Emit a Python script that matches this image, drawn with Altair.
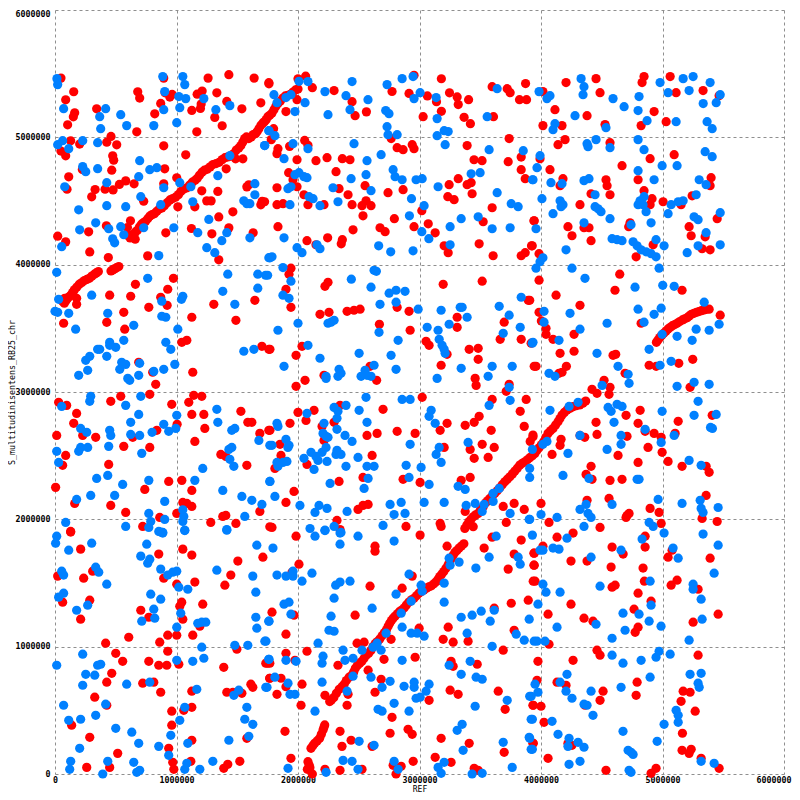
import altair as alt
import pandas as pd

# Values, in thousands of base pairs: (REF, S_multitudinisentens_RB25_chr)
red_upper_left = [(49,5465),(154,5358),(88,5295),(162,5193),(151,5161),(104,5098),(129,4973),(203,4947),(49,4892),(88,4855),(343,5224),(681,5358),(697,5308),(821,5185),(870,5266),(895,5465),(906,5350),(964,5337),(945,5316),(1260,5465),(1431,5492),(1639,5465),(1760,5429),(1170,5339),(1211,5363),(1332,5350),(1414,5282),(1538,5224),(1694,5271),(1203,5261),(1197,5227),(1126,5211),(1315,5156),(1376,5091),(1167,5043),(673,5043),(461,5007),(426,4962),(508,4941),(895,4933),(475,4855),(483,4821),(467,4742),(903,4753),(1076,4863),(225,4747),(113,4690),(99,4593),(330,4590),(302,4533),(412,4593),(478,4587),(530,4630),(582,4658),(651,4635),(895,4635),(1002,4682),(730,4498),(1208,4580),(1340,4575),(1249,4501),(1285,4501),(1011,4454),(1151,4454),(1464,4415),(1348,4375),(621,4344),(423,4305),(596,4292),(277,4258),(22,4224),(88,4179),(286,4100),(439,4056),(763,4069),(912,4250),(1123,4284),(1291,4242),(1431,4289),(1631,4250),(1348,4038),(1579,4611),(1595,4627),(1705,4498),(1694,4470),(1409,4753),(1546,4831),(1486,4831)]
red_diag_a = [(618,4210),(640,4226),(662,4257),(695,4296),(728,4330),(763,4361),(799,4393),(838,4419),(879,4445),(923,4487),(969,4519),(1016,4550),(1057,4592),(1107,4624),(1153,4663),(1189,4702),(1230,4742),(1277,4768),(1326,4794),(1376,4825),(1422,4846),(1472,4872),(1513,4917),(1546,4964),(1576,5003),(1615,5003),(1650,5029),(1678,5068),(1711,5113),(1738,5139),(1767,5173),(1802,5217),(1835,5265),(1876,5309),(1917,5330),(1959,5356),(2000,5380),(660,4200),(600,4230)]
red_diag_a2 = [(629,4230),(650,4240),(678,4270),(712,4318),(745,4340),(781,4382),(818,4400),(858,4438),(900,4462),(946,4508),(992,4530),(1036,4575),(1082,4602),(1130,4648),(1171,4678),(1210,4726),(1253,4750),(1300,4786),(1351,4804),(1399,4840),(1447,4854),(1492,4900),(1530,4935),(1561,4990),(1595,4990),(1632,5022),(1664,5045),(1695,5095),(1724,5122),(1752,5162),(1785,5190),(1818,5245),(1855,5285),(1896,5325),(1938,5338),(1980,5372)]
red_upper_mid = [(2000,5460),(2063,5480),(1761,5420),(2118,5390),(2297,5367),(2445,5280),(2470,5170),(2563,5200),(2774,5360),(2914,5345),(2955,5487),(3065,5325),(3140,5280),(3180,5460),(3247,5350),(3310,5317),(3319,5257),(3404,5296),(3180,5204),(3030,5162),(3367,5157),(3419,5107),(3609,5162),(3598,5398),(3722,5382),(3746,5351),(3873,5422),(3823,5296),(3881,5296),(3738,4990),(3392,4935),(3837,4845),(3730,4809),(3837,4746),(3870,4675),(3449,4824),(3515,4817),(3319,4675),(3244,4628),(3392,4628),(3425,4644),(3433,4557),(3233,4534),(3285,4510),(3598,4447),(3524,4337),(3944,4345),(3491,4164),(3606,4070),(3837,4070),(3870,4094),(3922,4148),(3203,4148),(3236,4094),(3129,4250),(3072,4321),(2955,4298),(2793,4361),(3019,4424),(2675,4290),(2717,4259),(2453,4274),(2365,4196),(2356,4164),(2244,4211),(2074,4188),(2148,4156),(2535,4384),(2527,4463),(2560,4502),(2601,4463),(2445,4471),(2412,4549),(2338,4597),(2552,4620),(2741,4565),(2865,4589),(2313,4730),(2365,4832),(2428,4824),(2239,4840),(2148,4817),(1992,4824),(1923,4722),(1959,4667),(1992,4612),(1827,4604),(2049,4549),(2082,4471),(2214,4471),(1725,4494),(1827,4471),(1877,4479),(1835,4298),(2055,4976),(2082,4937),(1931,4929),(1835,4911),(1827,4872),(1780,4982),(2816,4919),(2865,4903),(2940,4942),(2955,4911),(2767,4990),(1901,5202),(1992,5296),(1799,5068)]
red_upper_right = [(4206,5430),(4453,5461),(4486,5351),(4016,5359),(4115,5217),(4379,5170),(4016,5092),(4173,5092),(4527,5100),(4198,4982),(4140,4942),(4568,4958),(4848,5477),(4832,5430),(5063,5477),(5112,5351),(5334,5367),(5466,5327),(4931,5202),(5030,5123),(4824,5092),(4898,4832),(5096,4864),(4667,4777),(3992,4832),(4074,4746),(4181,4675),(4157,4620),(4535,4667),(4544,4620),(4568,4549),(4412,4557),(4799,4667),(4848,4581),(4914,4518),(4898,4471),(5005,4494),(5153,4471),(5244,4541),(5400,4683),(5392,4620),(4321,4471),(3942,4345),(4222,4298),(4354,4290),(4395,4290),(4255,4227),(4412,4188),(4733,4329),(4722,4298),(5219,4298),(5236,4227),(5351,4219),(5450,4361),(4923,4156),(4783,4062),(5326,4125),(5392,4117),(3928,4148),(3984,4086)]
red_diag_b = [(63,3710),(77,3697),(104,3736),(132,3762),(159,3802),(200,3846),(242,3875),(283,3893),(324,3925),(357,3946),(461,3951),(489,3967),(525,3985),(178,3736),(178,3689),(80,3736)]
red_diag_b2 = [(90,3716),(118,3750),(145,3782),(180,3824),(221,3860),(262,3884),(303,3910),(340,3935),(475,3959),(507,3976)]
red_middle_left = [(975,3893),(662,3846),(928,3807),(450,3760),(623,3752),(870,3744),(923,3681),(772,3665),(566,3626),(1126,3587),(1307,3689),(1645,3720),(1489,3563),(71,3540),(426,3547),(574,3493),(1044,3390),(1085,3406),(1703,3359),(1760,3335),(689,3233),(804,3155),(1134,3155),(829,3060),(780,2982),(1142,2974),(1208,2966),(541,2966),(459,2927),(30,2919),(96,2895),(961,2903),(1101,2919),(178,2832),(1126,2824),(1225,2824),(1530,2848),(154,2754),(1587,2762),(1620,2762),(1005,2746),(1233,2714),(838,2699),(1686,2675),(1760,2699),(14,2659),(228,2659),(335,2644),(640,2644),(1151,2612),(566,2573),(780,2565),(88,2502),(1365,2510),(1406,2494),(63,2424),(442,2431),(1579,2424),(5,2251),(936,2298),(1044,2306),(739,2235),(1126,2227),(162,2125),(459,2109),(1052,2133),(1085,2125),(1126,2101),(582,2054),(1002,2046),(1381,2023),(1406,2031),(1686,2062),(862,2015),(722,1944),(1282,1976),(1489,1968),(129,1905),(1768,1941)]
red_middle_mid = [(1942,3972),(1926,3925),(1901,3807),(1942,3665),(2247,3862),(2222,3830),(2181,3610),(2255,3626),(2404,3634),(2461,3642),(2511,3650),(2816,3665),(2914,3634),(2670,3532),(2923,3485),(3195,3846),(3516,3870),(3310,3587),(3310,3508),(3697,3548),(3895,3720),(3664,3414),(3837,3414),(3919,3383),(3054,3398),(3079,3367),(3409,3335),(3483,3343),(3227,3296),(3483,3257),(3178,3210),(1769,3335),(2033,3359),(1984,3288),(2593,3202),(2214,3131),(2058,3092),(2647,3092),(1984,3045),(3458,3107),(3466,3052),(3738,3060),(3714,3005),(3944,3202),(3022,2958),(3598,2942),(3878,2942),(3829,2848),(2346,2895),(2700,2864),(2000,2840),(2132,2856),(2066,2777),(1934,2754),(1769,2699),(2297,2762),(2198,2730),(2214,2620),(2568,2659),(2651,2675),(2816,2691),(2964,2675),(3170,2699),(3227,2754),(3376,2738),(3450,2762),(3491,2809),(3590,2699),(3862,2730),(3911,2612),(3516,2589),(3615,2565),(3417,2549),(3203,2565),(3450,2479),(3565,2486),(1852,2589),(1860,2502),(2074,2431),(1810,2400),(2610,2502),(2535,2329),(2338,2298),(2865,2314),(3005,2290),(3417,2329),(3343,2306),(1967,2219),(1901,2133),(2494,2078),(2535,2109),(2577,2117),(3376,2062),(3689,2101),(3779,2125),(3862,2078),(3714,1976),(3170,1968),(3178,1944),(2889,1944),(1786,1936),(2321,1991),(2346,1920)]
red_diag_c = [(2261,569),(2275,582),(2316,634),(2362,686),(2398,734),(2445,778),(2472,831),(2508,870),(2544,909),(2582,948),(2618,1001),(2654,1040),(2692,1085),(2728,1132),(2755,1184),(2783,1224),(2818,1258),(2857,1289),(2892,1328),(2934,1368),(2975,1399),(3016,1433),(3057,1459),(3098,1478),(3140,1512),(3167,1551),(3200,1590),(3236,1643),(3263,1695),(3291,1740),(3326,1774),(3365,1808),(3373,1928),(3406,1981),(3442,2020),(3483,2046),(3442,1942),(3524,2099),(3579,2164),(3620,2204),(3661,2248),(3702,2295),(3744,2334),(3785,2379),(3826,2426),(3867,2452),(3908,2484),(3950,2518),(3984,2562),(4022,2610),(4058,2675),(4099,2714),(4140,2767),(4173,2819),(4214,2859),(4264,2885),(4319,2898),(4368,2929),(3934,2649)]
red_diag_c2 = [(2295,600),(2339,665),(2380,705),(2421,760),(2458,800),(2490,855),(2526,885),(2563,935),(2600,970),(2636,1025),(2673,1060),(2710,1110),(2742,1160),(2769,1205),(2800,1240),(2838,1278),(2875,1305),(2913,1350),(2955,1380),(2995,1420),(3036,1445),(3078,1470),(3119,1495),(3153,1530),(3184,1570),(3218,1615),(3250,1670),(3277,1718),(3308,1755),(3345,1790),(3390,1955),(3424,2000),(3462,2035),(3500,2070),(3545,2130),(3560,2145),(3600,2185),(3640,2225),(3681,2272),(3723,2315),(3765,2357),(3805,2402),(3846,2440),(3888,2468),(3929,2500),(3966,2540),(4003,2585),(4040,2642),(4078,2695),(4120,2740),(4156,2792),(4193,2840),(4240,2872),(4290,2892),(4345,2912)]
red_diag_d = [(4950,3390),(4977,3427),(5010,3461),(5046,3495),(5082,3521),(5120,3540),(5164,3566),(5203,3584),(5238,3610),(5280,3626),(5321,3639),(5362,3650)]
red_diag_d2 = [(4963,3408),(4993,3444),(5028,3478),(5064,3508),(5101,3530),(5142,3553),(5183,3575),(5220,3597),(5259,3618),(5300,3632),(5342,3645)]
red_diag_e = [(2107,202),(2137,241),(2178,280),(2206,346),(2220,385),(2082,97),(2091,71),(2077,37),(2118,0),(2122,222),(2157,260),(2192,313),(2213,366),(2098,50)]
red_middle_right = [(4648,3925),(3984,3878),(4609,3799),(5161,3799),(4124,3760),(3907,3720),(4321,3681),(3984,3626),(4003,3558),(4041,3500),(4041,3453),(4099,3414),(4272,3453),(4824,3540),(4157,3304),(4272,3320),(4593,3288),(4615,3296),(3959,3202),(5249,3257),(5134,3225),(4890,3210),(4948,3202),(4692,3147),(4173,3155),(4209,3202),(4148,3147),(4519,3092),(4568,3037),(4420,3021),(4461,2990),(4560,2982),(5227,3037),(5475,3603),(5384,3650),(4816,2856),(4700,2817),(4453,2762),(4799,2754),(5129,2770),(5409,2817),(4461,2667),(4708,2652),(4321,2659),(4360,2644),(4857,2691),(4931,2675),(4989,2644),(5104,2675),(4165,2628),(4157,2581),(4091,2510),(4634,2502),(4881,2565),(4997,2526),(4412,2416),(4799,2447),(5046,2455),(5161,2416),(5359,2416),(5384,2369),(4371,2353),(4420,2314),(4568,2306),(4667,2314),(4560,2164),(4379,2149),(4000,2125),(5359,2188),(4898,2086),(4972,2054),(4725,2046),(4708,2031),(4700,2015),(4066,1976),(4486,1936),(4989,1968),(5326,2007),(5450,1983),(3934,2662)]
red_lower_left = [(129,1900),(211,1766),(854,1727),(1052,1766),(1126,1719),(1505,1672),(1711,1703),(22,1554),(236,1538),(310,1593),(895,1538),(1002,1491),(1151,1507),(1398,1483),(1447,1562),(286,1365),(63,1349),(211,1216),(706,1286),(772,1231),(1043,1349),(1027,1318),(1052,1216),(1216,1334),(1192,1161),(607,1074),(928,1090),(1002,1090),(1134,1090),(417,1027),(862,1035),(500,948),(928,964),(1497,980),(557,885),(772,885),(854,854),(920,854),(1019,862),(1389,838),(467,791),(426,721),(722,713),(813,721),(870,642),(1126,650),(1414,642),(1464,642),(1538,634),(1612,705),(1628,681),(327,603),(426,540),(961,493),(1060,500),(1126,524),(137,383),(961,383),(286,288),(1126,265),(1579,280),(936,202),(516,162),(261,52),(450,52),(969,92),(978,37),(1118,100),(1389,45),(1422,76),(1521,100),(1768,870),(1735,870),(1768,752)]
red_lower_mid = [(1984,1868),(3005,1876),(2634,1789),(2634,1750),(3227,1789),(3532,1774),(3598,1860),(3837,1837),(3779,1727),(3944,1734),(3944,1640),(3730,1609),(3936,1514),(2008,1648),(1951,1585),(2940,1554),(2857,1459),(2593,1475),(3755,1341),(3895,1365),(3615,1302),(1786,1271),(1967,1247),(2470,1247),(1901,1098),(3779,1129),(2997,1145),(3236,1153),(3195,1058),(3277,1035),(3400,1043),(2766,1058),(2544,1035),(2486,1027),(2074,964),(1901,948),(1975,893),(1750,870),(2329,854),(2708,901),(2964,917),(3689,972),(3260,885),(3277,846),(3475,862),(2577,815),(2684,744),(1767,752),(1860,752),(2033,705),(1901,686),(1827,626),(2222,618),(2412,626),(2634,642),(3252,658),(3318,626),(3648,650),(3079,579),(2025,540),(2404,540),(3705,508),(3936,540),(2774,445),(2758,320),(2906,351),(2940,312),(1893,335),(2346,335),(2437,265),(2362,217),(2610,217),(3178,280),(3409,241),(3697,170),(1942,123),(2948,100),(3129,131),(3260,92),(2783,68),(2849,60),(2807,0),(2222,37),(2346,29),(2527,37),(3450,45),(3483,29),(3936,241)]
red_lower_right = [(4132,1860),(4264,1892),(4016,1789),(3942,1734),(3942,1640),(3951,1514),(4247,1672),(4379,1672),(4585,1782),(4676,1727),(4857,1868),(4857,1782),(4577,1625),(4840,1617),(5046,1703),(5079,1758),(5392,1695),(4585,1467),(4610,1483),(4851,1514),(5071,1483),(5120,1522),(5293,1451),(4799,1420),(4247,1334),(4906,1357),(4058,1255),(4354,1224),(4428,1200),(4766,1294),(5458,1255),(5252,1192),(4799,1153),(4775,1113),(4066,1019),(4461,972),(4486,933),(4264,893),(3975,885),(5293,933),(3967,736),(4132,721),(4206,697),(4791,721),(4511,650),(4783,618),(4486,579),(3934,540),(4000,532),(4362,540),(5170,650),(5227,642),(5153,571),(5269,493),(4025,406),(5164,320),(3934,241),(4222,241),(4255,225),(5161,186),(5236,194),(5219,162),(4058,123),(5318,123),(4535,29),(4906,5),(4947,45),(5466,45)]

blue_upper_left = [(16,5461),(22,5414),(71,5225),(417,5225),(368,5162),(376,5068),(541,5178),(590,5092),(813,5092),(887,5477),(1052,5477),(1068,5414),(903,5359),(1019,5320),(1076,5304),(895,5217),(1027,5233),(1002,5115),(1225,5304),(1324,5217),(1439,5249),(22,4942),(63,4974),(113,4911),(228,4974),(351,4958),(1727,4935),(1760,5052),(1439,4856),(228,4770),(253,4730),(351,4754),(697,4817),(780,4746),(838,4762),(689,4691),(426,4644),(80,4612),(1027,4644),(895,4604),(1118,4612),(1340,4699),(706,4534),(1645,4636),(1645,4549),(1554,4502),(1579,4479),(1604,4479),(426,4463),(582,4455),(195,4431),(870,4471),(1134,4494),(1266,4355),(335,4329),(442,4282),(203,4274),(541,4298),(566,4235),(730,4290),(978,4290),(1175,4251),(1414,4251),(1373,4188),(1604,4211),(475,4203),(491,4172),(55,4141),(1249,4133),(1315,4094),(854,4071),(1760,4055)]
blue_upper_mid = [(2445,5438),(2222,5359),(2082,5438),(2008,5440),(1802,5335),(1827,5272),(1901,5312),(1942,5335),(2058,5272),(1975,5202),(2247,5178),(2395,5327),(2428,5217),(2576,5296),(2733,5414),(2857,5461),(2947,5477),(3005,5351),(2955,5304),(3137,5312),(2722,5210),(2749,5186),(3145,5147),(3557,5162),(3639,5382),(2733,5084),(2741,5021),(2816,5021),(3145,5013),(3203,5052),(3236,5045),(3211,4942),(3573,4903),(3854,4895),(2461,4950),(1761,5052),(1810,5013),(1725,4935),(1959,4950),(2082,4911),(1885,4832),(2684,4864),(2568,4817),(2783,4746),(2560,4707),(2799,4691),(2857,4667),(2972,4667),(3022,4675),(2437,4675),(2008,4722),(1975,4707),(2049,4691),(2074,4683),(2288,4604),(1942,4612),(1917,4597),(2601,4581),(3153,4612),(3425,4714),(3499,4722),(3639,4565),(3930,4667),(2091,4534),(2124,4518),(1934,4471),(2181,4463),(2329,4494),(2934,4518),(3038,4463),(3755,4479),(3812,4455),(2917,4384),(3343,4361),(3483,4376),(3252,4298),(3598,4282),(3746,4290),(3019,4259),(3077,4204),(1885,4211),(1992,4133),(2033,4094),(2156,4156),(2181,4125),(2664,4148),(2763,4101),(2947,4109),(3252,4156),(1769,4054),(1786,4062)]
blue_upper_right = [(4330,5461),(4354,5398),(4346,5335),(3984,5359),(4049,5304),(4074,5327),(4593,5304),(4807,5320),(4684,5241),(4799,5210),(4280,5170),(4115,5107),(4099,5060),(4535,5076),(4873,5131),(4980,5430),(5170,5461),(5252,5477),(5392,5430),(5046,5351),(5219,5367),(5475,5335),(5335,5265),(5442,5272),(5112,5123),(5367,5123),(5409,5068),(4799,4982),(4453,4982),(4379,4950),(4387,4927),(4568,4919),(4848,4903),(3992,4856),(3967,4762),(5351,4887),(5409,4848),(4997,4777),(5120,4777),(4799,4738),(3934,4667),(4082,4644),(4173,4636),(4354,4660),(4395,4675),(4931,4667),(5302,4667),(5359,4628),(4008,4518),(4445,4549),(4157,4502),(4181,4471),(4165,4455),(4445,4455),(4470,4439),(4494,4416),(4848,4534),(4815,4502),(4799,4471),(4840,4471),(4865,4416),(5071,4471),(5129,4494),(5170,4502),(5277,4549),(5046,4400),(5260,4376),(5293,4353),(5475,4408),(4099,4400),(4568,4361),(4354,4329),(4906,4329),(4741,4314),(3959,4282),(5359,4251),(4585,4204),(4626,4196),(4667,4188),(4947,4196),(5013,4148),(5293,4148),(5475,4156),(4206,4117),(5203,4094),(4758,4180),(4791,4148),(4824,4117),(4865,4101),(4906,4086),(4947,4062),(4016,4054),(3992,4023)]
blue_middle_left = [(14,3940),(763,3893),(1422,3925),(1669,3925),(1733,3917),(1669,3815),(1381,3791),(302,3760),(30,3728),(1052,3752),(1041,3728),(879,3713),(1480,3689),(0,3634),(22,3626),(113,3618),(434,3618),(879,3595),(912,3587),(170,3493),(648,3524),(1011,3493),(566,3406),(450,3390),(450,3367),(500,3351),(351,3335),(368,3335),(912,3390),(953,3335),(286,3280),(253,3249),(426,3280),(1554,3320),(1637,3335),(549,3233),(582,3217),(697,3225),(986,3217),(533,3178),(269,3170),(895,3178),(813,3162),(195,3131),(689,3131),(599,3107),(615,3092),(294,2966),(286,2927),(706,2966),(55,2887),(582,2895),(1332,2864),(689,2824),(1002,2817),(623,2762),(1340,2762),(211,2714),(261,2683),(450,2699),(459,2659),(623,2667),(697,2659),(799,2683),(895,2746),(936,2691),(994,2714),(1455,2699),(1480,2714),(1678,2620),(1768,2581),(14,2534),(195,2534),(211,2565),(269,2565),(442,2573),(714,2518),(1455,2565),(1431,2549),(1439,2471),(1472,2416),(30,2447),(1216,2400),(343,2321),(434,2345),(557,2274),(772,2306),(1151,2306),(1768,2298),(1381,2227),(294,2188),(491,2188),(178,2156),(903,2141),(1538,2180),(1620,2149),(1703,2117),(1052,2075),(1060,2023),(1052,1983),(772,2046),(788,1983),(903,1999),(88,1976),(1562,2023),(582,1944),(772,1936),(854,1905),(887,1897),(1068,1912),(1414,1920)]
blue_middle_mid = [(1876,3977),(1750,3917),(1942,3870),(1876,3760),(1926,3736),(2000,3540),(1835,3485),(2082,3367),(2181,3265),(1885,3202),(2439,3886),(2626,3956),(2645,3948),(2601,3823),(2750,3776),(2807,3799),(2881,3791),(2675,3689),(2807,3705),(2989,3650),(2297,3563),(2272,3548),(2247,3540),(2667,3469),(2824,3406),(2503,3304),(2766,3288),(2626,3210),(2807,3178),(2552,3170),(2568,3131),(2519,3123),(2601,3123),(2338,3178),(2354,3147),(2329,3123),(2231,3123),(2231,3107),(3063,3508),(3153,3485),(3178,3642),(3244,3532),(3335,3665),(3351,3665),(3392,3587),(3162,3414),(3186,3367),(3203,3335),(3211,3304),(3656,3673),(3738,3603),(3837,3744),(3829,3508),(3689,3461),(3928,3383),(3598,3202),(3763,3202),(3343,3186),(3565,3123),(3145,3107),(3738,3037),(3746,2935),(3573,2895),(2560,2958),(2857,2942),(2923,2942),(2395,2895),(2297,2879),(2329,2848),(2321,2793),(2503,2856),(2074,2832),(1827,2754),(1835,2730),(2214,2754),(2568,2762),(2321,2707),(2206,2675),(2231,2652),(2247,2644),(2387,2659),(2445,2612),(3096,2856),(3079,2809),(3129,2754),(2923,2589),(3400,2604),(3162,2565),(3137,2510),(3178,2447),(1786,2581),(1901,2628),(1926,2581),(1917,2565),(2107,2526),(2231,2565),(2198,2526),(2148,2494),(2165,2463),(2049,2479),(2239,2455),(2321,2542),(2313,2510),(2354,2510),(2494,2486),(2132,2392),(2395,2416),(2568,2416),(2626,2416),(2890,2424),(3013,2408),(1827,2447),(1835,2416),(1876,2447),(1909,2455),(1769,2298),(2264,2282),(2577,2321),(2544,2243),(2914,2329),(3079,2274),(3318,2259),(3376,2235),(1810,2180),(2016,2109),(2173,2109),(2239,2086),(2140,2054),(2404,2062),(2758,2117),(2849,2133),(2791,2038),(2881,2046),(3038,2133),(3203,2133),(3384,2109),(3458,2125),(3532,2117),(3516,2062),(3606,2141),(3656,2243),(3606,2204),(3746,2046),(3903,1999),(2700,1952),(2099,1928),(2222,1912),(2297,1944),(2354,1897)]
blue_middle_right = [(3959,3972),(4362,3893),(4255,3972),(4972,3972),(4774,3823),(5002,3838),(5096,3830),(5343,3705),(4025,3634),(4239,3618),(4799,3650),(4989,3658),(4931,3610),(4025,3548),(4544,3540),(4848,3548),(4321,3493),(5466,3532),(5277,3493),(5384,3485),(4997,3453),(5120,3437),(5244,3406),(3934,3390),(4148,3406),(4890,3335),(4461,3304),(5071,3241),(4980,3210),(4634,3202),(4717,3139),(4066,3147),(4115,3123),(4725,3068),(5120,3045),(5260,3076),(5384,3060),(4503,3052),(5293,2927),(4305,2919),(4231,2887),(4074,2856),(4552,2879),(4577,2848),(4626,2903),(4667,2887),(4997,2848),(5260,2817),(5442,2824),(4601,2762),(4857,2707),(5395,2722),(5411,2714),(4659,2659),(5096,2659),(4989,2604),(4659,2589),(4321,2659),(4049,2612),(4016,2589),(3929,2549),(4544,2549),(4222,2518),(5219,2463),(5318,2424),(3907,2400),(3907,2329),(4181,2345),(4395,2321),(4791,2314),(4807,2314),(4964,2156),(5161,2125),(5310,2149),(5458,2093),(5318,2086),(5334,2054),(4585,2117),(4371,2117),(4321,2078),(4387,2046),(4412,2015),(4000,2038),(4132,2015),(3907,2000),(4890,1976),(4923,1944),(4354,1944)]
blue_lower_left = [(14,1868),(5,1813),(113,1758),(302,1813),(755,1805),(870,1900),(887,1892),(1068,1915),(1414,1915),(1661,1797),(706,1711),(780,1687),(763,1656),(55,1593),(71,1562),(335,1624),(360,1585),(870,1609),(928,1562),(969,1585),(1002,1593),(1332,1601),(1628,1554),(426,1491),(1019,1467),(1093,1451),(1653,1428),(30,1389),(71,1420),(788,1412),(870,1373),(269,1326),(178,1286),(813,1294),(821,1224),(714,1200),(1035,1263),(1653,1231),(1760,1200),(1175,1184),(1208,1192),(1241,1192),(1002,1153),(1661,1145),(1727,1043),(1208,996),(1480,1011),(1587,1011),(228,941),(14,854),(351,854),(376,862),(1002,893),(1134,885),(1225,909),(1760,901),(253,783),(327,776),(228,697),(590,705),(780,721),(1167,665),(1513,658),(1472,618),(1735,681),(71,540),(417,548),(1068,524),(1579,524),(113,422),(211,430),(335,461),(1027,422),(1562,430),(1628,390),(500,359),(632,328),(953,304),(1595,296),(689,241),(1431,265),(1093,241),(203,202),(854,217),(936,147),(129,100),(434,100),(648,92),(1299,100),(1085,84),(121,37),(393,0),(673,13),(697,29),(1068,37),(1192,37)]
blue_lower_mid = [(1794,1774),(2140,1868),(2222,1915),(2346,1892),(2346,1805),(2494,1868),(2791,1829),(3631,1868),(3573,1703),(3812,1703),(3829,1648),(3326,1664),(3244,1695),(3252,1640),(3464,1617),(1827,1562),(1901,1554),(1959,1593),(1959,1554),(2033,1514),(2115,1577),(2914,1569),(2310,1483),(2346,1507),(2428,1514),(3013,1483),(3022,1436),(3203,1499),(2807,1412),(2297,1381),(2931,1357),(3203,1349),(1885,1334),(1926,1349),(2610,1302),(1942,1255),(2272,1239),(2849,1263),(1761,1200),(3343,1231),(3433,1247),(3508,1279),(3615,1286),(3582,1200),(3903,1216),(2857,1153),(2255,1129),(2297,1121),(2725,1106),(2931,1106),(2980,1106),(3038,1082),(3392,1106),(3796,1098),(3862,1051),(1736,1043),(2165,1027),(2651,1027),(2618,996),(2684,972),(2527,972),(2371,972),(3598,1003),(3944,1043),(2206,925),(2198,870),(2453,909),(2387,893),(1761,901),(1901,893),(1984,885),(2857,893),(3244,854),(3417,885),(3343,783),(3466,760),(3516,744),(1810,760),(2453,768),(2601,760),(2758,728),(1918,713),(2198,721),(2956,721),(3079,705),(2873,689),(2956,681),(2692,681),(1745,681),(2404,650),(3054,650),(1934,626),(1975,626),(2972,595),(3005,603),(3919,610),(2791,555),(3722,579),(2659,508),(2692,493),(2914,493),(2140,493),(3458,532),(3919,430),(3351,390),(3310,343),(3903,288),(3689,249),(2503,257),(2626,225),(3359,186),(3919,194),(2371,107),(2445,100),(2791,100),(3203,92),(1918,45),(2494,37),(2824,37),(2231,13),(3153,52),(3178,5),(3433,0),(3516,5),(3763,52)]
blue_lower_right = [(3929,1876),(4214,1852),(4832,1845),(5013,1892),(5334,1884),(5458,1797),(3992,1758),(4016,1758),(4099,1774),(4148,1766),(4412,1703),(4659,1758),(5087,1774),(5129,1695),(5425,1577),(4016,1491),(4041,1428),(4157,1428),(4486,1475),(4898,1514),(5252,1491),(5252,1451),(5318,1373),(3975,1334),(4906,1326),(4675,1263),(4807,1255),(4453,1176),(4890,1200),(5326,1216),(4132,1153),(4692,1129),(4988,1161),(4585,1066),(5219,1051),(3967,1043),(4033,1043),(4972,964),(4947,917),(5063,941),(4585,933),(4675,870),(4824,893),(4898,760),(5227,783),(5318,791),(4214,783),(4157,721),(3951,705),(4206,650),(3975,642),(3907,610),(4412,650),(4255,595),(4659,681),(5293,713),(5302,681),(4354,548),(4379,540),(4428,461),(5112,500),(5129,461),(5129,406),(5013,390),(4091,414),(3929,430),(4675,335),(4140,312),(4231,280),(4222,217),(4305,249),(4354,210),(4956,257),(3907,280),(3929,194),(4717,186),(4741,170),(4758,154),(4321,100),(4231,76),(5318,100),(5425,84),(4725,29),(4741,13)]

red_groups = [red_upper_left, red_diag_a, red_diag_a2, red_upper_mid, red_upper_right, red_diag_b, red_diag_b2, red_middle_left,
              red_middle_mid, red_diag_c, red_diag_c2, red_diag_d, red_diag_d2, red_diag_e, red_middle_right, red_lower_left,
              red_lower_mid, red_lower_right]
blue_groups = [blue_upper_left, blue_upper_mid, blue_upper_right, blue_middle_left, blue_middle_mid, blue_middle_right,
               blue_lower_left, blue_lower_mid, blue_lower_right]
tick_values = [0, 1000000, 2000000, 3000000, 4000000, 5000000, 6000000]


def frame(groups):
    rows = [p for g in groups for p in g]
    return pd.DataFrame({"ref": [p[0] * 1000 for p in rows], "query": [p[1] * 1000 for p in rows]})


FONT = "DejaVu Sans Mono"
x_axis = alt.Axis(values=tick_values, format="d", grid=True, gridColor="#8f8f8f", gridDash=[3, 3], gridWidth=1,
                  domain=False, ticks=False, labelPadding=1, labelFont=FONT, labelFontSize=8.3, labelFontWeight="bold",
                  labelColor="#000000", labelFlush=False, labelOverlap=False,
                  labelAlign=alt.expr("datum.value == 6000000 ? 'right' : 'center'"),
                  labelOffset=alt.expr("datum.value == 6000000 ? 7 : 0"),
                  title="REF", titleFont=FONT, titleFontSize=8, titleFontWeight="normal", titleColor="#000000",
                  titleBaseline="alphabetic", titleY=17.5)
y_axis = alt.Axis(values=tick_values, format="d", grid=True, gridColor="#8f8f8f", gridDash=[3, 3], gridWidth=1,
                  domain=False, ticks=False, labelPadding=5, labelFont=FONT, labelFontSize=8.3, labelFontWeight="bold",
                  labelColor="#000000", labelFlush=False, labelOverlap=False,
                  labelOffset=alt.expr("datum.value == 6000000 ? 4 : 0"),
                  title="S_multitudinisentens_RB25_chr",
                  titleFont=FONT, titleFontSize=8.3, titleFontWeight="normal", titleColor="#000000",
                  titleBaseline="alphabetic", titleX=-41)
x_scale = alt.Scale(domain=[0, 6000000], nice=False, zero=False)
y_scale = alt.Scale(domain=[0, 6000000], nice=False, zero=False)

red = alt.Chart(frame(red_groups)).mark_circle(size=85, color="#ff0000", opacity=1, clip=False).encode(
    x=alt.X("ref:Q", scale=x_scale, axis=x_axis),
    y=alt.Y("query:Q", scale=y_scale, axis=y_axis),
)
blue = alt.Chart(frame(blue_groups)).mark_circle(size=85, color="#0080ff", opacity=1, clip=False).encode(
    x=alt.X("ref:Q", scale=x_scale, axis=x_axis),
    y=alt.Y("query:Q", scale=y_scale, axis=y_axis),
)

chart = alt.layer(red, blue).properties(
    width=729,
    height=764,
    autosize=alt.AutoSizeParams(type="none"),
    padding={"left": 47, "top": 2, "right": 8, "bottom": 18},
    background="#ffffff",
).configure_view(stroke=None)

chart.save("out.html", embed_options={"renderer": "svg", "actions": False})
